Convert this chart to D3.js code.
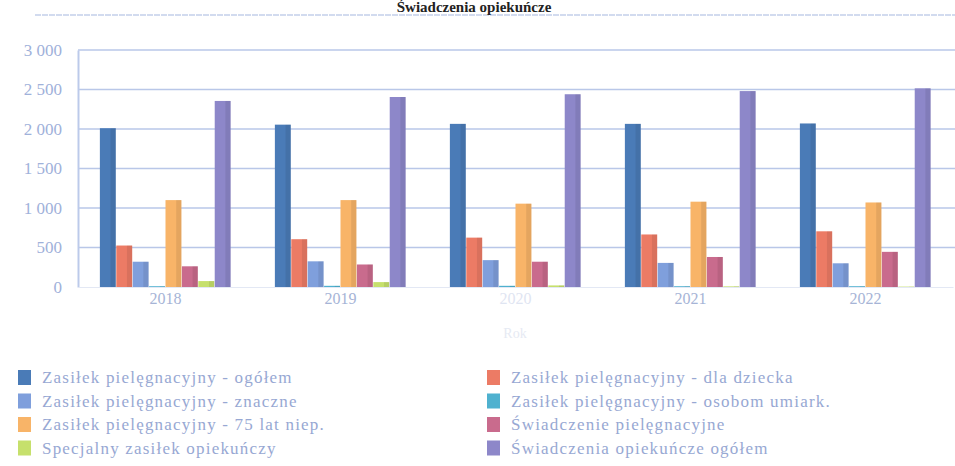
<!DOCTYPE html>
<html>
<head>
<meta charset="utf-8">
<script src="https://cdn.jsdelivr.net/npm/d3@7"></script>
<style>
  body { margin: 0; background: #fff; }
  svg { display: block; }
  svg text { font-family: 'Liberation Serif', 'Times New Roman', 'DejaVu Serif', serif; }
</style>
</head>
<body>
<svg></svg>
<script>
const YEARS = ['2018', '2019', '2020', '2021', '2022'];

const SERIES = [
  'Zasiłek pielęgnacyjny - ogółem',
  'Zasiłek pielęgnacyjny - dla dziecka',
  'Zasiłek pielęgnacyjny - znaczne',
  'Zasiłek pielęgnacyjny - osobom umiark.',
  'Zasiłek pielęgnacyjny - 75 lat niep.',
  'Świadczenie pielęgnacyjne',
  'Specjalny zasiłek opiekuńczy',
  'Świadczenia opiekuńcze ogółem',
];

// one array per series, in year order
const OGOLEM = [2010, 2055, 2065, 2065, 2070];
const DZIECKO = [525, 605, 625, 665, 705];
const ZNACZNE = [320, 325, 340, 305, 300];
const UMIARK = [10, 15, 15, 10, 10];
const LAT75 = [1100, 1100, 1055, 1080, 1070];
const SWIADCZENIE = [262, 285, 320, 380, 445];
const SPECJALNY = [75, 62, 20, 8, 5];
const OPIEKUNCZE = [2355, 2405, 2440, 2480, 2515];

const Y_TICKS = [0, 500, 1000, 1500, 2000, 2500, 3000];
const Y_LABELS = ['0', '500', '1 000', '1 500', '2 000', '2 500', '3 000'];

const COLORS = ['#4a7bb7', '#ec7b65', '#7f9fdc', '#4fb1cf', '#f8b468', '#c96b8d', '#c6e06c', '#8d87c9'];

const VALUES = [OGOLEM, DZIECKO, ZNACZNE, UMIARK, LAT75, SWIADCZENIE, SPECJALNY, OPIEKUNCZE];

const W = 955, H = 466;
const PLOT = {left: 78, right: 953, top: 50, bottom: 287};
const FONT = "'Liberation Serif', 'Times New Roman', serif";

const svg = d3.select('svg').attr('width', W).attr('height', H);

const x0 = d3.scaleBand().domain(YEARS).range([PLOT.left, PLOT.right])
  .paddingInner(0.25).paddingOuter(0.125);
const x1 = d3.scaleBand().domain(d3.range(SERIES.length)).range([0, x0.bandwidth()]);
const y = d3.scaleLinear().domain([0, 3000]).range([PLOT.bottom, PLOT.top]);

// faint top rule
svg.append('line')
  .attr('x1', 35).attr('x2', W).attr('y1', 15).attr('y2', 15)
  .attr('stroke', '#c3cfea').attr('stroke-width', 1.5).attr('stroke-dasharray', '6 1');

// title
svg.append('text')
  .attr('x', 474).attr('y', 12)
  .attr('text-anchor', 'middle')
  .attr('font-family', FONT)
  .attr('font-size', 15).attr('font-weight', 'bold')
  .attr('fill', '#222')
  .text('Świadczenia opiekuńcze');

// gridlines
svg.append('g')
  .selectAll('line')
  .data(Y_TICKS.slice(1))
  .enter()
  .append('line')
  .attr('x1', PLOT.left).attr('x2', W)
  .attr('y1', d => y(d)).attr('y2', d => y(d))
  .attr('stroke', '#b9c7e8').attr('stroke-width', 1.5);

// y axis
const yAxis = svg.append('g')
  .attr('transform', `translate(${PLOT.left},0)`)
  .call(d3.axisLeft(y).tickValues(Y_TICKS).tickFormat((d, i) => Y_LABELS[i]).tickSize(0).tickPadding(16))
  .attr('font-family', FONT);
yAxis.select('.domain').attr('stroke', '#bccaea').attr('stroke-width', 2);
yAxis.selectAll('text').attr('font-size', 17).attr('fill', '#9fb1da');

// x axis
const xAxis = svg.append('g')
  .attr('transform', `translate(0,${PLOT.bottom})`)
  .call(d3.axisBottom(x0).tickSize(0).tickPadding(6))
  .attr('font-family', FONT);
xAxis.select('.domain').attr('stroke', '#e3e8f4').attr('stroke-width', 1);
xAxis.selectAll('text').attr('font-size', 16)
  .attr('fill', d => d === '2020' ? '#dfe5f2' : '#a6b4d6');

// faint axis title
svg.append('text')
  .attr('x', 515).attr('y', 338).attr('text-anchor', 'middle')
  .attr('font-family', FONT)
  .attr('font-size', 14).attr('fill', '#e6eaf3')
  .text('Rok');

// bars
const groups = svg.append('g')
  .selectAll('g')
  .data(YEARS)
  .enter()
  .append('g')
  .attr('transform', d => `translate(${x0(d)},0)`);

groups.selectAll('rect')
  .data((yr, yi) => VALUES.map((vals, si) => ({si, v: vals[yi]})))
  .enter()
  .append('rect')
  .attr('x', d => x1(d.si))
  .attr('width', x1.bandwidth() - 0.5)
  .attr('y', d => y(d.v))
  .attr('height', d => y(0) - y(d.v))
  .attr('fill', d => COLORS[d.si]);

// subtle shading on the right of each bar
groups.selectAll('.shade')
  .data((yr, yi) => VALUES.map((vals, si) => ({si, v: vals[yi]})))
  .enter()
  .append('rect')
  .classed('shade', true)
  .attr('x', d => x1(d.si) + x1.bandwidth() * 0.65)
  .attr('width', x1.bandwidth() * 0.35 - 0.5)
  .attr('y', d => y(d.v))
  .attr('height', d => y(0) - y(d.v))
  .attr('fill', '#000').attr('opacity', 0.08);

// legend, two columns filled row by row
const legend = svg.append('g')
  .selectAll('g')
  .data(SERIES)
  .enter()
  .append('g')
  .attr('transform', (d, i) => `translate(${i % 2 === 0 ? 18 : 487},${370 + Math.floor(i / 2) * 23.5})`);

legend.append('rect')
  .attr('width', 13).attr('height', 15)
  .attr('fill', (d, i) => COLORS[i]);

legend.append('text')
  .attr('x', 24).attr('y', 13)
  .attr('font-family', FONT)
  .attr('font-size', 17).attr('letter-spacing', 1.2)
  .attr('fill', '#97a8d3')
  .text(d => d);
</script>
</body>
</html>
